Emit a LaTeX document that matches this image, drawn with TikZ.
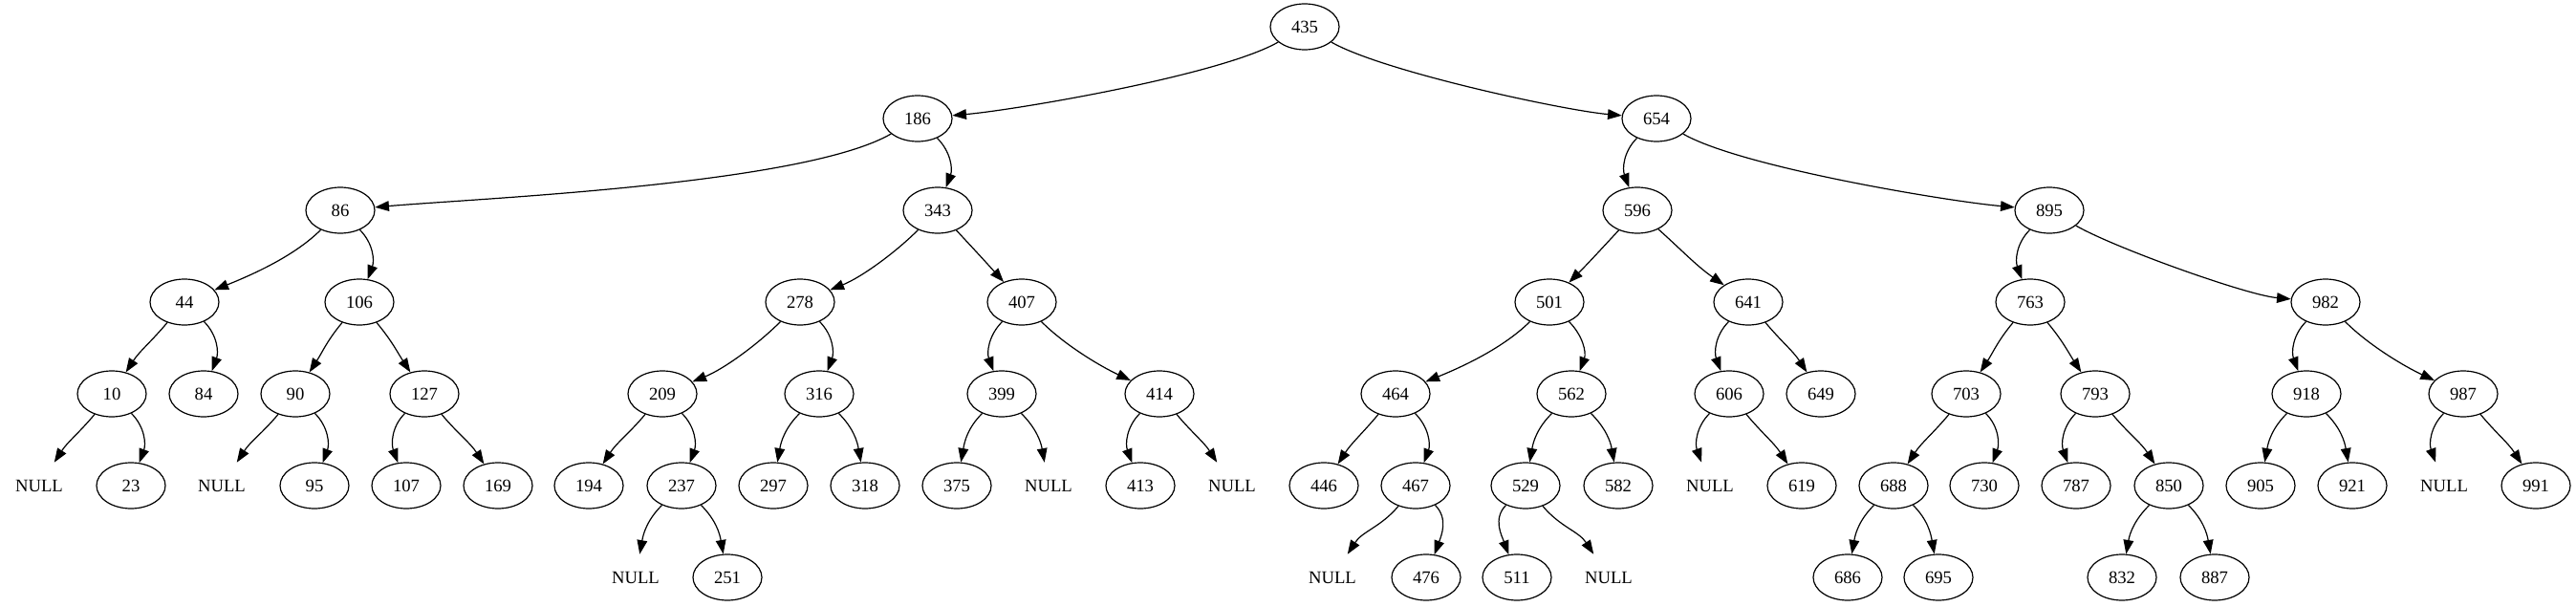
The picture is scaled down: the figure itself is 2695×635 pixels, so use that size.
\documentclass[tikz,border=0pt]{standalone}
\usepackage{fontspec}
\setmainfont{Liberation Serif}
\usetikzlibrary{arrows.meta,shapes.geometric}

\begin{document}
\begin{tikzpicture}[x=0.75pt,y=0.75pt,
  font=\fontsize{14}{17}\selectfont,
  key/.style={draw,ellipse,line width=0.9pt,minimum width=54pt,minimum height=36pt,inner sep=0pt},
  nil/.style={rectangle,minimum width=54pt,minimum height=36pt,inner sep=0pt},
  edge/.style={line width=0.9pt,-{Triangle[length=11pt,width=8pt]}},
  l1/.style={out=-135,in=110}, r1/.style={out=-45,in=70},
  lh/.style={out=-135,in=80}, rh/.style={out=-45,in=100},
  l2/.style={out=-130,in=57}, r2/.style={out=-50,in=123},
  l2w/.style={out=-133,in=45}, r2w/.style={out=-47,in=132},
  r2x/.style={out=-42,in=145},
  l3/.style={out=-135,in=22,looseness=0.8}, r3/.style={out=-45,in=155,looseness=0.8},
  l4/.style={out=-150,in=5,looseness=0.5}, r4/.style={out=-30,in=175,looseness=0.5}]
\useasboundingbox (0,0) rectangle (2695,-635);

\node[key] (n435) at (1365,-28) {435};

\node[key] (n186) at (960,-124) {186};
\node[key] (n654) at (1733,-124) {654};

\node[key] (n86) at (356,-220) {86};
\node[key] (n343) at (981,-220) {343};
\node[key] (n596) at (1713,-220) {596};
\node[key] (n895) at (2144,-220) {895};

\node[key] (n44) at (193,-316) {44};
\node[key] (n106) at (376,-316) {106};
\node[key] (n278) at (837,-316) {278};
\node[key] (n407) at (1069,-316) {407};
\node[key] (n501) at (1621,-316) {501};
\node[key] (n641) at (1829,-316) {641};
\node[key] (n763) at (2124,-316) {763};
\node[key] (n982) at (2433,-316) {982};

\node[key] (n10) at (117,-412) {10};
\node[key] (n84) at (213,-412) {84};
\node[key] (n90) at (309,-412) {90};
\node[key] (n127) at (444,-412) {127};
\node[key] (n209) at (693,-412) {209};
\node[key] (n316) at (857,-412) {316};
\node[key] (n399) at (1048,-412) {399};
\node[key] (n414) at (1213,-412) {414};
\node[key] (n464) at (1460,-412) {464};
\node[key] (n562) at (1644,-412) {562};
\node[key] (n606) at (1809,-412) {606};
\node[key] (n649) at (1905,-412) {649};
\node[key] (n703) at (2057,-412) {703};
\node[key] (n793) at (2192,-412) {793};
\node[key] (n918) at (2413,-412) {918};
\node[key] (n987) at (2577,-412) {987};

\node[nil] (null10) at (41,-508) {NULL};
\node[key] (n23) at (137,-508) {23};
\node[nil] (null90) at (232,-508) {NULL};
\node[key] (n95) at (329,-508) {95};
\node[key] (n107) at (425,-508) {107};
\node[key] (n169) at (521,-508) {169};
\node[key] (n194) at (616,-508) {194};
\node[key] (n237) at (713,-508) {237};
\node[key] (n297) at (809,-508) {297};
\node[key] (n318) at (905,-508) {318};
\node[key] (n375) at (1001,-508) {375};
\node[nil] (null399) at (1097,-508) {NULL};
\node[key] (n413) at (1193,-508) {413};
\node[nil] (null414) at (1289,-508) {NULL};
\node[key] (n446) at (1385,-508) {446};
\node[key] (n467) at (1481,-508) {467};
\node[key] (n529) at (1596,-508) {529};
\node[key] (n582) at (1693,-508) {582};
\node[nil] (null606) at (1789,-508) {NULL};
\node[key] (n619) at (1885,-508) {619};
\node[key] (n688) at (1981,-508) {688};
\node[key] (n730) at (2076,-508) {730};
\node[key] (n787) at (2172,-508) {787};
\node[key] (n850) at (2269,-508) {850};
\node[key] (n905) at (2365,-508) {905};
\node[key] (n921) at (2461,-508) {921};
\node[nil] (null987) at (2557,-508) {NULL};
\node[key] (n991) at (2653,-508) {991};

\node[nil] (null237) at (665,-604) {NULL};
\node[key] (n251) at (761,-604) {251};
\node[nil] (null467) at (1394,-604) {NULL};
\node[key] (n476) at (1492,-604) {476};
\node[key] (n511) at (1587,-604) {511};
\node[nil] (null529) at (1683,-604) {NULL};
\node[key] (n686) at (1933,-604) {686};
\node[key] (n695) at (2028,-604) {695};
\node[key] (n832) at (2220,-604) {832};
\node[key] (n887) at (2317,-604) {887};

\draw[edge] (n435) to[l4] (n186);
\draw[edge] (n435) to[r4] (n654);

\draw[edge] (n186) to[l4] (n86);
\draw[edge] (n186) to[r1] (n343);
\draw[edge] (n654) to[l1] (n596);
\draw[edge] (n654) to[r4] (n895);

\draw[edge] (n86) to[l3] (n44);
\draw[edge] (n86) to[r1] (n106);
\draw[edge] (n343) to[l3] (n278);
\draw[edge] (n343) to[r2w] (n407);
\draw[edge] (n596) to[l2w] (n501);
\draw[edge] (n596) to[r2x] (n641);
\draw[edge] (n895) to[l1] (n763);
\draw[edge] (n895) to[r4] (n982);

\draw[edge] (n44) to[l2] (n10);
\draw[edge] (n44) to[r1] (n84);
\draw[edge] (n106) to[l2] (n90);
\draw[edge] (n106) to[r2] (n127);
\draw[edge] (n278) to[l3] (n209);
\draw[edge] (n278) to[r1] (n316);
\draw[edge] (n407) to[l1] (n399);
\draw[edge] (n407) to[r3] (n414);
\draw[edge] (n501) to[l3] (n464);
\draw[edge] (n501) to[r1] (n562);
\draw[edge] (n641) to[l1] (n606);
\draw[edge] (n641) to[r2] (n649);
\draw[edge] (n763) to[l2] (n703);
\draw[edge] (n763) to[r2] (n793);
\draw[edge] (n982) to[l1] (n918);
\draw[edge] (n982) to[r3] (n987);

\draw[edge] (n10) to[l2] (null10);
\draw[edge] (n10) to[r1] (n23);
\draw[edge] (n90) to[l2] (null90);
\draw[edge] (n90) to[r1] (n95);
\draw[edge] (n127) to[l1] (n107);
\draw[edge] (n127) to[r2] (n169);
\draw[edge] (n209) to[l2] (n194);
\draw[edge] (n209) to[r1] (n237);
\draw[edge] (n316) to[lh] (n297);
\draw[edge] (n316) to[rh] (n318);
\draw[edge] (n399) to[lh] (n375);
\draw[edge] (n399) to[rh] (null399);
\draw[edge] (n414) to[l1] (n413);
\draw[edge] (n414) to[r2] (null414);
\draw[edge] (n464) to[l2] (n446);
\draw[edge] (n464) to[r1] (n467);
\draw[edge] (n562) to[lh] (n529);
\draw[edge] (n562) to[rh] (n582);
\draw[edge] (n606) to[l1] (null606);
\draw[edge] (n606) to[r2] (n619);
\draw[edge] (n703) to[l2] (n688);
\draw[edge] (n703) to[r1] (n730);
\draw[edge] (n793) to[l1] (n787);
\draw[edge] (n793) to[r2] (n850);
\draw[edge] (n918) to[lh] (n905);
\draw[edge] (n918) to[rh] (n921);
\draw[edge] (n987) to[l1] (null987);
\draw[edge] (n987) to[r2] (n991);

\draw[edge] (n237) to[lh] (null237);
\draw[edge] (n237) to[rh] (n251);
\draw[edge] (n467) to[l2] (null467);
\draw[edge] (n467) to[r1] (n476);
\draw[edge] (n529) to[l1] (n511);
\draw[edge] (n529) to[r2] (null529);
\draw[edge] (n688) to[lh] (n686);
\draw[edge] (n688) to[rh] (n695);
\draw[edge] (n850) to[lh] (n832);
\draw[edge] (n850) to[rh] (n887);
\end{tikzpicture}
\end{document}
